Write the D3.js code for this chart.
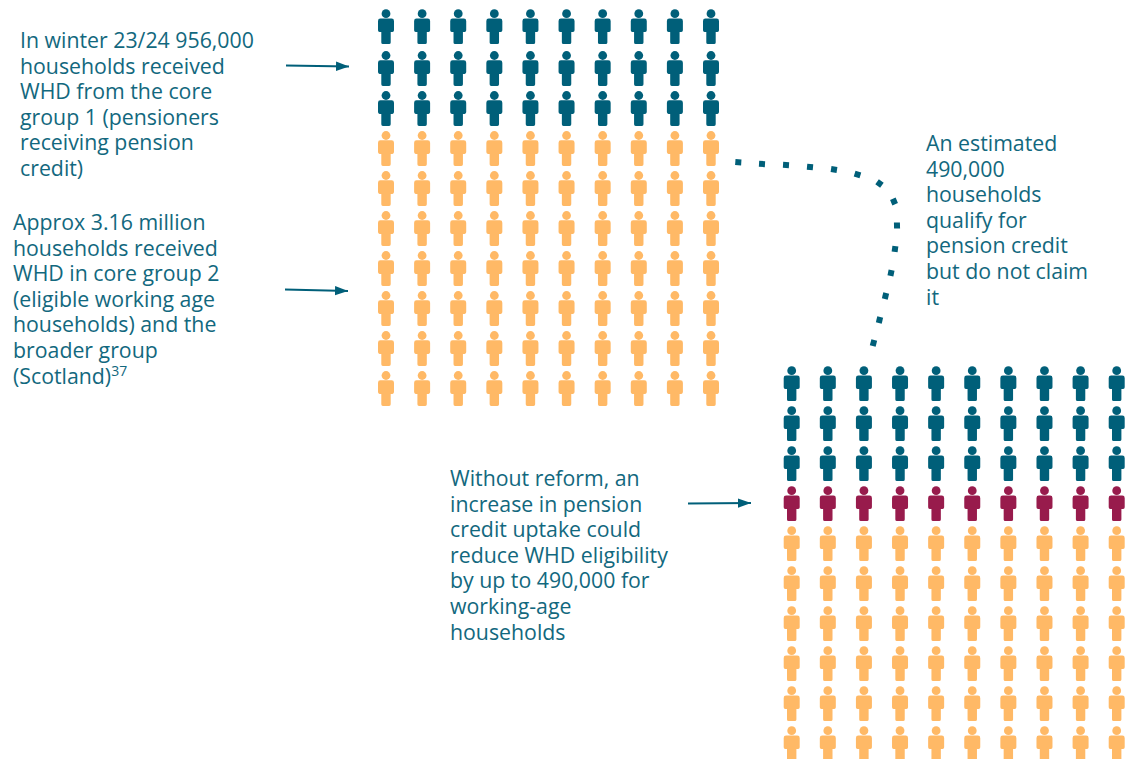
<!DOCTYPE html>
<html>
<head>
<meta charset="utf-8">
<script src="https://cdn.jsdelivr.net/npm/d3@7"></script>
<style>
html,body{margin:0;padding:0;background:#fff;}
svg{display:block;}
text{font-family:"Open Sans",sans-serif;font-size:21.3px;fill:#12687e;}
</style>
</head>
<body>
<svg id="chart" width="1139" height="759"></svg>
<script>
// Household groups: one row of ten figures per row entry, coloured by group
const upperRows = ["core1","core1","core1","core2","core2","core2","core2","core2","core2","core2"];
const lowerRows = ["core1","core1","core1","lost","core2","core2","core2","core2","core2","core2"];
const columnIndex = [0,1,2,3,4,5,6,7,8,9];
const groupColours = {core1:"#005f79", core2:"#ffb966", lost:"#981b4c"};

const noteTop = ["In winter 23/24 956,000","households received","WHD from the core","group 1 (pensioners","receiving pension","credit)"];
const noteMiddle = ["Approx 3.16 million","households received","WHD in core group 2","(eligible working age","households) and the","broader group","(Scotland)"];
const noteRight = ["An estimated","490,000","households","qualify for","pension credit","but do not claim","it"];
const noteLower = ["Without reform, an","increase in pension","credit uptake could","reduce WHD eligibility","by up to 490,000 for","working-age","households"];

// Connector dots between the two grids
const connectorDots = [[738.3,162.3],[762,164],[786,165],[810,167],[834,169.5],[857.5,174.5],[879.5,183.5],[894,201.5],[897,225.5],[895,249],[891,273],[885.5,296],[879.5,320],[873.5,343]];
const arrows = [[286,65.5,349,66.5],[285,289.5,348,291],[688,503.5,751,503]];

const svg = d3.select("#chart");
const teal = groupColours.core1;

const defs = svg.append("defs");
defs.append("marker").attr("id","head").attr("markerUnits","userSpaceOnUse")
  .attr("viewBox","0 0 13 10").attr("markerWidth",13).attr("markerHeight",10)
  .attr("refX",13).attr("refY",5).attr("orient","auto")
  .append("path").attr("d","M0,0.3L13,5L0,9.7Z").attr("fill",teal);

// Pictogram figure, origin at the head centre
const figure = defs.append("g").attr("id","person");
figure.append("circle").attr("cx",0).attr("cy",0).attr("r",4.4);
figure.append("path").attr("d",
  "M-5.6,4.8H5.6Q8,4.8 8,7.2V16.6Q8,18.4 6.4,18.4H4.7V28.8Q4.7,30.4 3.1,30.4H-3.1Q-4.7,30.4 -4.7,28.8V18.4H-6.4Q-8,18.4 -8,16.6V7.2Q-8,4.8 -5.6,4.8Z");

// Rows and columns of each grid sit on point scales; the first row of the
// upper grid is set slightly higher than the rest
function drawGrid(rows, x0, x1, y0, y1, rowOffset) {
  const x = d3.scalePoint().domain(columnIndex).range([x0, x1]);
  const y = d3.scalePoint().domain(rows.map((_, i) => i)).range([y0, y1]);
  rows.forEach((group, r) => {
    svg.append("g").selectAll("use").data(columnIndex).join("use")
      .attr("href","#person")
      .attr("x", c => x(c))
      .attr("y", y(r) + (rowOffset[r] || 0))
      .attr("fill", groupColours[group]);
  });
}
drawGrid(upperRows, 386, 711, 15.5, 375.5, {0:-1.8});
drawGrid(lowerRows, 791.7, 1116.7, 370.7, 730.7, {});

function drawNote(lines, x, y) {
  const t = svg.append("text").attr("x", x).attr("y", y);
  t.selectAll("tspan").data(lines).join("tspan")
    .attr("x", x)
    .attr("y", (d, i) => y + i * 25.6)
    .text(d => d);
  return t;
}
drawNote(noteTop, 20, 48);
const middle = drawNote(noteMiddle, 13, 230);
middle.append("tspan").attr("dy",-8).style("font-size","14px").text("37");
drawNote(noteRight, 926, 151);
drawNote(noteLower, 450, 486);

svg.append("g").selectAll("line").data(arrows).join("line")
  .attr("x1", d => d[0]).attr("y1", d => d[1])
  .attr("x2", d => d[2]).attr("y2", d => d[3])
  .attr("stroke", teal).attr("stroke-width", 1.8)
  .attr("marker-end","url(#head)");

// Each dot is turned to follow the direction of the connector
svg.append("g").selectAll("rect").data(connectorDots).join("rect")
  .attr("width",6).attr("height",6).attr("x",-3).attr("y",-3)
  .attr("fill",teal)
  .attr("transform",(d,i) => {
    const a = connectorDots[Math.max(i-1,0)], b = connectorDots[Math.min(i+1,connectorDots.length-1)];
    const angle = Math.atan2(b[1]-a[1], b[0]-a[0]) * 180 / Math.PI;
    return `translate(${d[0]},${d[1]}) rotate(${angle})`;
  });
</script>
</body>
</html>
